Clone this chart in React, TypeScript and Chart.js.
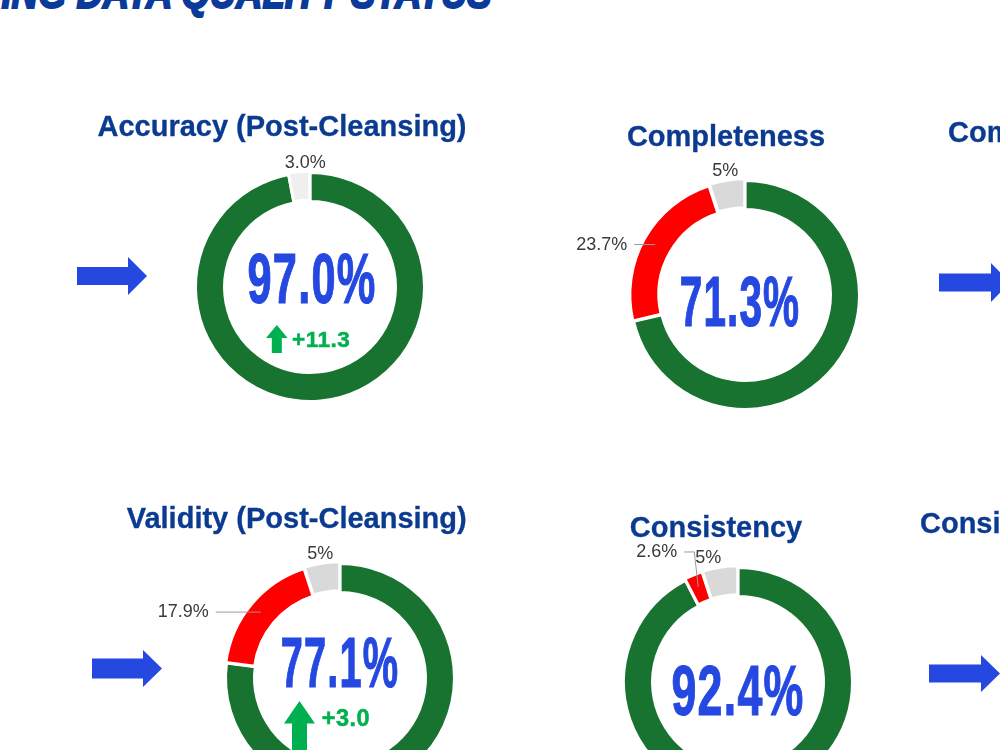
import React, { useEffect, useRef } from "react";
import { Chart, registerables } from "chart.js";

Chart.register(...registerables);

// ---------- data ----------
const segmentNames = ["Meets standard", "Fails standard", "Not assessed"];

const accuracyValues = [97.0, 3.0];
const accuracyLabels = ["", "3.0%"];
const accuracyDelta = 11.3;

const completenessValues = [71.3, 23.7, 5];
const completenessLabels = ["", "23.7%", "5%"];

const validityValues = [77.1, 17.9, 5];
const validityLabels = ["", "17.9%", "5%"];
const validityDelta = 3.0;

const consistencyValues = [92.4, 2.6, 5];
const consistencyLabels = ["", "2.6%", "5%"];

const pageTitle = "MONITORING DATA QUALITY STATUS";
const panelTitles = [
  "Accuracy (Post-Cleansing)",
  "Completeness",
  "Completeness (Post-Cleansing)",
  "Validity (Post-Cleansing)",
  "Consistency",
  "Consistency (Post-Cleansing)",
];

// ---------- styles ----------
const GREEN = "#187330";
const RED = "#ff0000";
const GRAY = "#d9d9d9";
const LIGHT_GRAY = "#efefef";
const NAVY = "#0b3b91";
const BLUE = "#2448e0";
const UP_GREEN = "#00b050";
const FONT = '"Liberation Sans", Arial, Helvetica, sans-serif';

const CW = 420;
const CH = 300;

type Spec =
  | null
  | { kind: "radial"; dx?: number; dist?: number }
  | { kind: "leader"; len: number; elbowDx?: number; elbowDy?: number };

function makeLabelPlugin(texts: string[], specs: Spec[]) {
  return {
    id: "sliceLabels",
    afterDatasetsDraw(chart: any) {
      const meta = chart.getDatasetMeta(0);
      const ctx = chart.ctx as CanvasRenderingContext2D;
      ctx.save();
      ctx.font = `18px ${FONT}`;
      meta.data.forEach((arc: any, i: number) => {
        const spec = specs[i];
        const text = texts[i];
        if (!spec || !text) return;
        const p = arc.getProps(
          ["x", "y", "startAngle", "endAngle", "innerRadius", "outerRadius"],
          true
        );
        const off = (arc.options && arc.options.offset) || 0;
        const mid = (p.startAngle + p.endAngle) / 2;
        const cos = Math.cos(mid);
        const sin = Math.sin(mid);
        if (spec.kind === "radial") {
          const d = p.outerRadius + off + (spec.dist ?? 7);
          ctx.fillStyle = "#3a3a3a";
          ctx.textAlign = "center";
          ctx.textBaseline = "middle";
          ctx.fillText(text, p.x + cos * d + (spec.dx || 0), p.y + sin * d);
        } else {
          const r = (p.innerRadius + p.outerRadius) / 2 + off;
          const sx = p.x + cos * r;
          const sy = p.y + sin * r;
          const ex = sx + (spec.elbowDx || 0);
          const ey = sy + (spec.elbowDy || 0);
          const tx = ex - spec.len;
          ctx.strokeStyle = "#9a9a9a";
          ctx.lineWidth = 1;
          ctx.beginPath();
          ctx.moveTo(sx, sy);
          if (spec.elbowDy) ctx.lineTo(ex, ey);
          ctx.lineTo(tx, ey);
          ctx.stroke();
          ctx.fillStyle = "#3a3a3a";
          ctx.textAlign = "right";
          ctx.textBaseline = "middle";
          ctx.fillText(text, tx - 7, ey);
        }
      });
      ctx.restore();
    },
  };
}

function Donut(props: {
  values: number[];
  colors: string[];
  offsets: number[];
  texts: string[];
  specs: Spec[];
  cx: number;
  cy: number;
}) {
  const ref = useRef<HTMLCanvasElement>(null);
  useEffect(() => {
    const chart = new Chart(ref.current as HTMLCanvasElement, {
      type: "doughnut",
      data: {
        labels: segmentNames.slice(0, props.values.length),
        datasets: [
          {
            data: props.values,
            backgroundColor: props.colors,
            borderColor: "#ffffff",
            borderWidth: 3,
            offset: props.offsets,
          } as any,
        ],
      },
      options: {
        responsive: false,
        animation: false,
        events: [],
        radius: 114.5,
        cutout: "74.67%",
        layout: { padding: 0 },
        plugins: {
          legend: { display: false },
          tooltip: { enabled: false },
          title: { display: false },
        },
      } as any,
      plugins: [makeLabelPlugin(props.texts, props.specs) as any],
    });
    return () => chart.destroy();
  }, []);
  return (
    <canvas
      ref={ref}
      width={CW}
      height={CH}
      style={{ position: "absolute", left: props.cx - CW / 2, top: props.cy - CH / 2 }}
    />
  );
}

function Title(props: { text: string; cx?: number; left?: number; top: number }) {
  const base: React.CSSProperties = {
    position: "absolute",
    top: props.top,
    font: `bold 29px ${FONT}`,
    lineHeight: 1,
    color: NAVY,
    whiteSpace: "nowrap",
    WebkitTextStroke: `0.3px ${NAVY}`,
  };
  if (props.cx !== undefined) {
    return <div style={{ ...base, left: props.cx, transform: "translateX(-50%)" }}>{props.text}</div>;
  }
  return <div style={{ ...base, left: props.left }}>{props.text}</div>;
}

function BigValue(props: { value: number; x: number; y: number; sx: number }) {
  return (
    <div
      style={{
        position: "absolute",
        left: props.x,
        top: props.y,
        font: `bold 71px ${FONT}`,
        lineHeight: 1,
        color: BLUE,
        whiteSpace: "nowrap",
        letterSpacing: "2px",
        WebkitTextStroke: `1.2px ${BLUE}`,
        transform: `translate(-50%, -50%) scaleX(${props.sx})`,
      }}
    >
      {props.value.toFixed(1) + "%"}
    </div>
  );
}

function Delta(props: {
  value: number;
  ax: number;
  ay: number;
  aw: number;
  ah: number;
  head: number;
  shaft: number;
  tx: number;
  ty: number;
  fs: number;
}) {
  const { aw, ah, head, shaft } = props;
  const s0 = (aw - shaft) / 2;
  const pts = `${aw / 2},0 ${aw},${head} ${s0 + shaft},${head} ${s0 + shaft},${ah} ${s0},${ah} ${s0},${head} 0,${head}`;
  return (
    <>
      <svg
        width={aw}
        height={ah}
        style={{ position: "absolute", left: props.ax, top: props.ay, overflow: "visible" }}
      >
        <polygon points={pts} fill={UP_GREEN} />
      </svg>
      <div
        style={{
          position: "absolute",
          left: props.tx,
          top: props.ty,
          font: `bold ${props.fs}px ${FONT}`,
          lineHeight: 1,
          color: UP_GREEN,
          whiteSpace: "nowrap",
          letterSpacing: "0.5px",
          WebkitTextStroke: `0.5px ${UP_GREEN}`,
        }}
      >
        {"+" + props.value.toFixed(1)}
      </div>
    </>
  );
}

function BlockArrow(props: { x: number; cy: number; w: number; h: number; body: number; headLen: number }) {
  const { w, h, body, headLen } = props;
  const b0 = (h - body) / 2;
  const bx = w - headLen;
  const pts = `0,${b0} ${bx},${b0} ${bx},0 ${w},${h / 2} ${bx},${h} ${bx},${b0 + body} 0,${b0 + body}`;
  return (
    <svg width={w} height={h} style={{ position: "absolute", left: props.x, top: props.cy - h / 2 }}>
      <polygon points={pts} fill={BLUE} />
    </svg>
  );
}

export default function App() {
  return (
    <div
      style={{
        position: "fixed",
        left: 0,
        top: 0,
        width: 1000,
        height: 750,
        overflow: "hidden",
        background: "#ffffff",
        fontFamily: FONT,
      }}
    >
      <div
        style={{
          position: "absolute",
          right: 508,
          top: -29,
          font: `italic 900 44px ${FONT}`,
          lineHeight: 1,
          color: "#0a3a9a",
          whiteSpace: "nowrap",
          WebkitTextStroke: "2px #0a3a9a",
          transform: "scaleX(0.83)",
          transformOrigin: "right center",
        }}
      >
        {pageTitle}
      </div>

      <Donut
        values={accuracyValues}
        colors={[GREEN, LIGHT_GRAY]}
        offsets={[0, 3]}
        texts={accuracyLabels}
        specs={[null, { kind: "radial", dx: 7 }]}
        cx={310}
        cy={287}
      />
      <Donut
        values={completenessValues}
        colors={[GREEN, RED, GRAY]}
        offsets={[0, 3, 4]}
        texts={completenessLabels}
        specs={[null, { kind: "leader", len: 21 }, { kind: "radial", dx: 0 }]}
        cx={744.5}
        cy={294.5}
      />
      <Donut
        values={validityValues}
        colors={[GREEN, RED, GRAY]}
        offsets={[0, 3, 4]}
        texts={validityLabels}
        specs={[null, { kind: "leader", len: 45 }, { kind: "radial", dx: 0 }]}
        cx={340.3}
        cy={678}
      />
      <Donut
        values={consistencyValues}
        colors={[GREEN, RED, GRAY]}
        offsets={[0, 3, 4]}
        texts={consistencyLabels}
        specs={[
          null,
          { kind: "leader", len: 10, elbowDx: -4, elbowDy: -35 },
          { kind: "radial", dx: -10 },
        ]}
        cx={737.5}
        cy={681.5}
      />

      <Title text={panelTitles[0]} cx={282} top={112} />
      <Title text={panelTitles[1]} cx={726} top={122} />
      <Title text={panelTitles[2]} left={948} top={118} />
      <Title text={panelTitles[3]} cx={296.7} top={504} />
      <Title text={panelTitles[4]} cx={716} top={513} />
      <Title text={panelTitles[5]} left={920} top={509} />

      <BigValue value={accuracyValues[0]} x={311.5} y={278} sx={0.61} />
      <BigValue value={completenessValues[0]} x={740} y={300.5} sx={0.57} />
      <BigValue value={validityValues[0]} x={340.3} y={662} sx={0.56} />
      <BigValue value={consistencyValues[0]} x={738.4} y={689.5} sx={0.63} />

      <Delta
        value={accuracyDelta}
        ax={265.7}
        ay={325}
        aw={21.6}
        ah={28}
        head={13}
        shaft={10}
        tx={292}
        ty={329.2}
        fs={22.5}
      />
      <Delta
        value={validityDelta}
        ax={284}
        ay={700.7}
        aw={31}
        ah={56}
        head={22.6}
        shaft={15}
        tx={321.7}
        ty={707}
        fs={23.5}
      />

      <BlockArrow x={77} cy={276} w={70} h={38} body={18} headLen={19} />
      <BlockArrow x={939} cy={282.5} w={71} h={39} body={18} headLen={19} />
      <BlockArrow x={92} cy={668.3} w={70} h={37} body={20} headLen={19} />
      <BlockArrow x={929} cy={673.3} w={71} h={37} body={18} headLen={19} />
    </div>
  );
}
